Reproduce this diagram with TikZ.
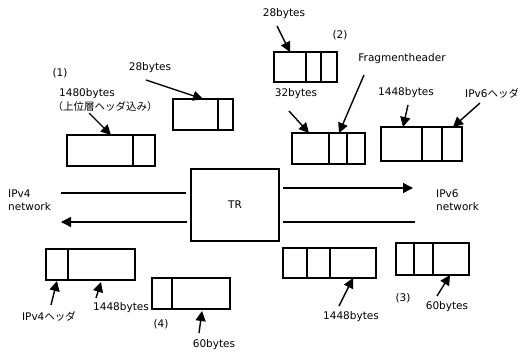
\documentclass[tikz,border=0pt]{standalone}
\usepackage{fontspec}
\setmainfont{DejaVu Sans}
\newfontfamily\jp{Noto Sans CJK JP}
\usetikzlibrary{arrows.meta}
\begin{document}
\begin{tikzpicture}[x=1pt,y=-1pt,
  pkt/.style={draw,line width=1.4pt,inner sep=0pt,outer sep=0pt},
  lbl/.style={inner sep=0pt,font=\fontsize{10.5}{12.5}\selectfont},
  flow/.style={line width=1.4pt,-{Triangle[length=10pt,width=10pt]}},
  plain/.style={line width=1.4pt}]
\useasboundingbox (0,0) rectangle (518,353);
\fill[white] (0,0) rectangle (518,353);

% router
\node[draw,line width=2.2pt,minimum width=88pt,minimum height=72pt,inner sep=0pt,lbl] (TR) at (235,205) {TR};

% network labels
\node[lbl,anchor=west,align=left] (v4net) at (8,200) {IPv4\\network};
\node[lbl,anchor=west,align=left] (v6net) at (436,200) {IPv6\\network};

% network lines
\coordinate (L1a) at (186,193); \coordinate (L1b) at (61,193);
\coordinate (L2a) at (187,222); \coordinate (L2b) at (61,222);
\coordinate (R1a) at (283,188); \coordinate (R1b) at (413,188);
\coordinate (R2a) at (283,222); \coordinate (R2b) at (415,222);
\draw[plain] (L1a) -- (L1b);
\draw[flow] (L2a) -- (L2b);
\draw[flow] (R1a) -- (R1b);
\draw[plain] (R2a) -- (R2b);

% (1)
\node[lbl] (n1) at (60,73) {(1)};
\node[lbl] (t1480) at (87,94) {1480bytes};
\node[lbl] (tjp1) at (105,107) {\jp （上位層ヘッダ込み）};
\node[pkt,minimum width=88pt,minimum height=31pt,anchor=north west] (b1) at (67,135) {};
\draw[plain] (133,135) -- (133,166);
\coordinate (a1s) at (89,113);
\draw[flow] (a1s) -- (111,135);

\node[lbl] (t28a) at (150,68) {28bytes};
\node[pkt,minimum width=60pt,minimum height=31pt,anchor=north west] (b2) at (173,99) {};
\draw[plain] (218,99) -- (218,130);
\coordinate (a2s) at (146,80);
\draw[flow] (a2s) -- (203,99);

% (2)
\node[lbl] (t28b) at (284,14) {28bytes};
\node[lbl] (n2) at (340,35) {(2)};
\node[pkt,minimum width=63pt,minimum height=30pt,anchor=north west] (b3) at (274,52) {};
\draw[plain] (306,52) -- (306,82);
\draw[plain] (321,52) -- (321,82);
\coordinate (a3s) at (277,26);
\draw[flow] (a3s) -- (290,52);

\node[lbl] (tfh) at (402,59) {Fragmentheader};
\node[lbl] (t32) at (296,94) {32bytes};
\node[pkt,minimum width=73pt,minimum height=31pt,anchor=north west] (b4) at (292,133) {};
\draw[plain] (329,133) -- (329,164);
\draw[plain] (347,133) -- (347,164);
\coordinate (a4s) at (289,111);
\draw[flow] (a4s) -- (309,133);
\coordinate (a5s) at (364,75);
\draw[flow] (a5s) -- (339,133);

\node[lbl] (t1448a) at (406,93) {1448bytes};
\node[lbl,anchor=west] (tv6h) at (465,93) {IPv6{\jp ヘッダ}};
\node[pkt,minimum width=81pt,minimum height=34pt,anchor=north west] (b5) at (381,127) {};
\draw[plain] (422,127) -- (422,161);
\draw[plain] (442,127) -- (442,161);
\coordinate (a6s) at (408,105);
\draw[flow] (a6s) -- (403,127);
\coordinate (a7s) at (480,103);
\draw[flow] (a7s) -- (453,127);

% (3) side, lower right
\node[pkt,minimum width=93pt,minimum height=30pt,anchor=north west] (b6) at (283,248) {};
\draw[plain] (307,248) -- (307,278);
\draw[plain] (330,248) -- (330,278);
\coordinate (a8s) at (339,306);
\draw[flow] (a8s) -- (353,278);
\node[lbl] (t1448b) at (351,317) {1448bytes};

\node[pkt,minimum width=73pt,minimum height=32pt,anchor=north west] (b7) at (396,243) {};
\draw[plain] (414,243) -- (414,275);
\draw[plain] (433,243) -- (433,275);
\node[lbl] (n3) at (403,298) {(3)};
\coordinate (a9s) at (437,296);
\draw[flow] (a9s) -- (450,275);
\node[lbl] (t60a) at (447,307) {60bytes};

% (4) side, lower left
\node[pkt,minimum width=89pt,minimum height=31pt,anchor=north west] (b8) at (46,249) {};
\draw[plain] (68,249) -- (68,280);
\coordinate (a10s) at (51,305);
\draw[flow] (a10s) -- (57,281);
\coordinate (a11s) at (96,298);
\draw[flow] (a11s) -- (101,282);
\node[lbl] (tv4h) at (49,316) {IPv4{\jp ヘッダ}};
\node[lbl] (t1448c) at (121,308) {1448bytes};

\node[pkt,minimum width=78pt,minimum height=31pt,anchor=north west] (b9) at (152,278) {};
\draw[plain] (172,278) -- (172,309);
\node[lbl] (n4) at (161,324) {(4)};
\coordinate (a12s) at (199,333);
\draw[flow] (a12s) -- (202,311);
\node[lbl] (t60b) at (214,345) {60bytes};
\end{tikzpicture}
\end{document}
